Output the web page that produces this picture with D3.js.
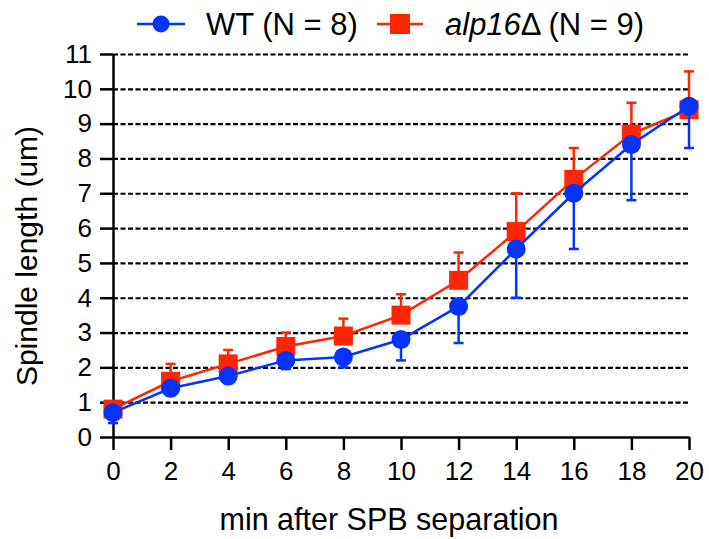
<!DOCTYPE html>
<html>
<head>
<meta charset="utf-8">
<script src="https://cdn.jsdelivr.net/npm/d3@7"></script>
<style>
  html, body { margin: 0; padding: 0; background: #fff; }
  svg { display: block; }
  text { font-family: "Liberation Sans", Arial, sans-serif; fill: #000; }
</style>
</head>
<body>
<svg id="chart" width="709" height="539"></svg>
<script>
// Time after spindle pole body separation (min)
const minutes = [0, 2, 4, 6, 8, 10, 12, 14, 16, 18, 20];

// Mean spindle length (um) and the error-bar end for each strain
const wtMean   = [0.7, 1.4, 1.75, 2.2, 2.3, 2.8, 3.75, 5.4, 7.0, 8.4, 9.5];
const wtLower  = [0.4, 1.2, 1.55, 1.95, 2.0, 2.2, 2.7, 4.0, 5.4, 6.8, 8.3];
const alpMean  = [0.8, 1.6, 2.1, 2.6, 2.9, 3.5, 4.5, 5.9, 7.4, 8.7, 9.4];
const alpUpper = [1.0, 2.1, 2.5, 3.0, 3.4, 4.1, 5.3, 7.0, 8.3, 9.6, 10.5];

const xTicks = [0, 2, 4, 6, 8, 10, 12, 14, 16, 18, 20];
const yTicks = [0, 1, 2, 3, 4, 5, 6, 7, 8, 9, 10, 11];

const BLUE = "#0433FF";
const RED = "#FF2600";

const svg = d3.select("#chart");
const plot = { left: 113, right: 689, top: 54, bottom: 437 };

const x = d3.scaleLinear().domain([0, 20]).range([plot.left, plot.right]);
const y = d3.scaleLinear().domain([0, 11]).range([plot.bottom, plot.top]);

// dashed horizontal grid
svg.append("g")
  .attr("transform", `translate(${plot.left},0)`)
  .call(d3.axisLeft(y).tickValues(yTicks.filter(v => v > 0)).tickSize(-(plot.right - plot.left)).tickFormat(""))
  .call(g => g.select(".domain").remove())
  .call(g => g.selectAll("line")
    .attr("stroke", "#000")
    .attr("stroke-width", 2.2)
    .attr("stroke-dasharray", "5,2.5"));

// y axis
svg.append("g")
  .attr("transform", `translate(${plot.left},0)`)
  .call(d3.axisLeft(y).tickValues(yTicks).tickSize(13).tickPadding(8).tickSizeOuter(0))
  .call(g => g.select(".domain").attr("stroke-width", 2.5))
  .call(g => g.selectAll("line").attr("stroke-width", 2.5))
  .call(g => g.selectAll("text").style("font-size", "26px").attr("fill", "#000"));

// x axis
svg.append("g")
  .attr("transform", `translate(0,${plot.bottom})`)
  .call(d3.axisBottom(x).tickValues(xTicks).tickSize(13).tickPadding(12).tickSizeOuter(0))
  .call(g => g.select(".domain").attr("stroke-width", 2.5))
  .call(g => g.selectAll("line").attr("stroke-width", 2.5))
  .call(g => g.selectAll("text").style("font-size", "26px").attr("fill", "#000"));

// axis titles
svg.append("text")
  .attr("x", 389).attr("y", 530)
  .attr("text-anchor", "middle")
  .style("font-size", "30.5px")
  .text("min after SPB separation");

svg.append("text")
  .attr("transform", "rotate(-90)")
  .attr("x", -256).attr("y", 37)
  .attr("text-anchor", "middle")
  .style("font-size", "30px")
  .text("Spindle length (um)");

const line = d3.line().x(d => x(d[0])).y(d => y(d[1]));
const cap = 5;

// alp16Δ series: upward error bars, line, squares
const alp = svg.append("g");
const alpPts = minutes.map((m, i) => ({ m, v: alpMean[i], e: alpUpper[i] }));
alp.selectAll("line.bar").data(alpPts).join("line")
  .attr("x1", d => x(d.m)).attr("x2", d => x(d.m))
  .attr("y1", d => y(d.v)).attr("y2", d => y(d.e))
  .attr("stroke", RED).attr("stroke-width", 2.5);
alp.selectAll("line.cap").data(alpPts).join("line")
  .attr("x1", d => x(d.m) - cap).attr("x2", d => x(d.m) + cap)
  .attr("y1", d => y(d.e)).attr("y2", d => y(d.e))
  .attr("stroke", RED).attr("stroke-width", 2.5);
alp.append("path")
  .attr("d", line(minutes.map((m, i) => [m, alpMean[i]])))
  .attr("fill", "none").attr("stroke", RED).attr("stroke-width", 2.5);
alp.selectAll("rect").data(alpPts).join("rect")
  .attr("x", d => x(d.m) - 9.5).attr("y", d => y(d.v) - 9.5)
  .attr("width", 19).attr("height", 19)
  .attr("fill", RED);

// WT series: downward error bars, line, circles
const wt = svg.append("g");
const wtPts = minutes.map((m, i) => ({ m, v: wtMean[i], e: wtLower[i] }));
wt.selectAll("line.bar").data(wtPts).join("line")
  .attr("x1", d => x(d.m)).attr("x2", d => x(d.m))
  .attr("y1", d => y(d.v)).attr("y2", d => y(d.e))
  .attr("stroke", BLUE).attr("stroke-width", 2.5);
wt.selectAll("line.cap").data(wtPts).join("line")
  .attr("x1", d => x(d.m) - cap).attr("x2", d => x(d.m) + cap)
  .attr("y1", d => y(d.e)).attr("y2", d => y(d.e))
  .attr("stroke", BLUE).attr("stroke-width", 2.5);
wt.append("path")
  .attr("d", line(minutes.map((m, i) => [m, wtMean[i]])))
  .attr("fill", "none").attr("stroke", BLUE).attr("stroke-width", 2.5);
wt.selectAll("circle").data(wtPts).join("circle")
  .attr("cx", d => x(d.m)).attr("cy", d => y(d.v))
  .attr("r", 9.5)
  .attr("fill", BLUE);

// legend
const lg = svg.append("g");
lg.append("line").attr("x1", 137).attr("x2", 185).attr("y1", 24).attr("y2", 24)
  .attr("stroke", BLUE).attr("stroke-width", 2.5);
lg.append("circle").attr("cx", 161).attr("cy", 24).attr("r", 8.5).attr("fill", BLUE);
lg.append("text").attr("x", 206).attr("y", 35).style("font-size", "31px").text("WT (N = 8)");

lg.append("line").attr("x1", 377).attr("x2", 423).attr("y1", 24).attr("y2", 24)
  .attr("stroke", RED).attr("stroke-width", 2.5);
lg.append("rect").attr("x", 390).attr("y", 14).attr("width", 20).attr("height", 20).attr("fill", RED);
const t2 = lg.append("text").attr("x", 445).attr("y", 35).style("font-size", "31px");
t2.append("tspan").style("font-style", "italic").text("alp16");
t2.append("tspan").text("Δ (N = 9)");
</script>
</body>
</html>
